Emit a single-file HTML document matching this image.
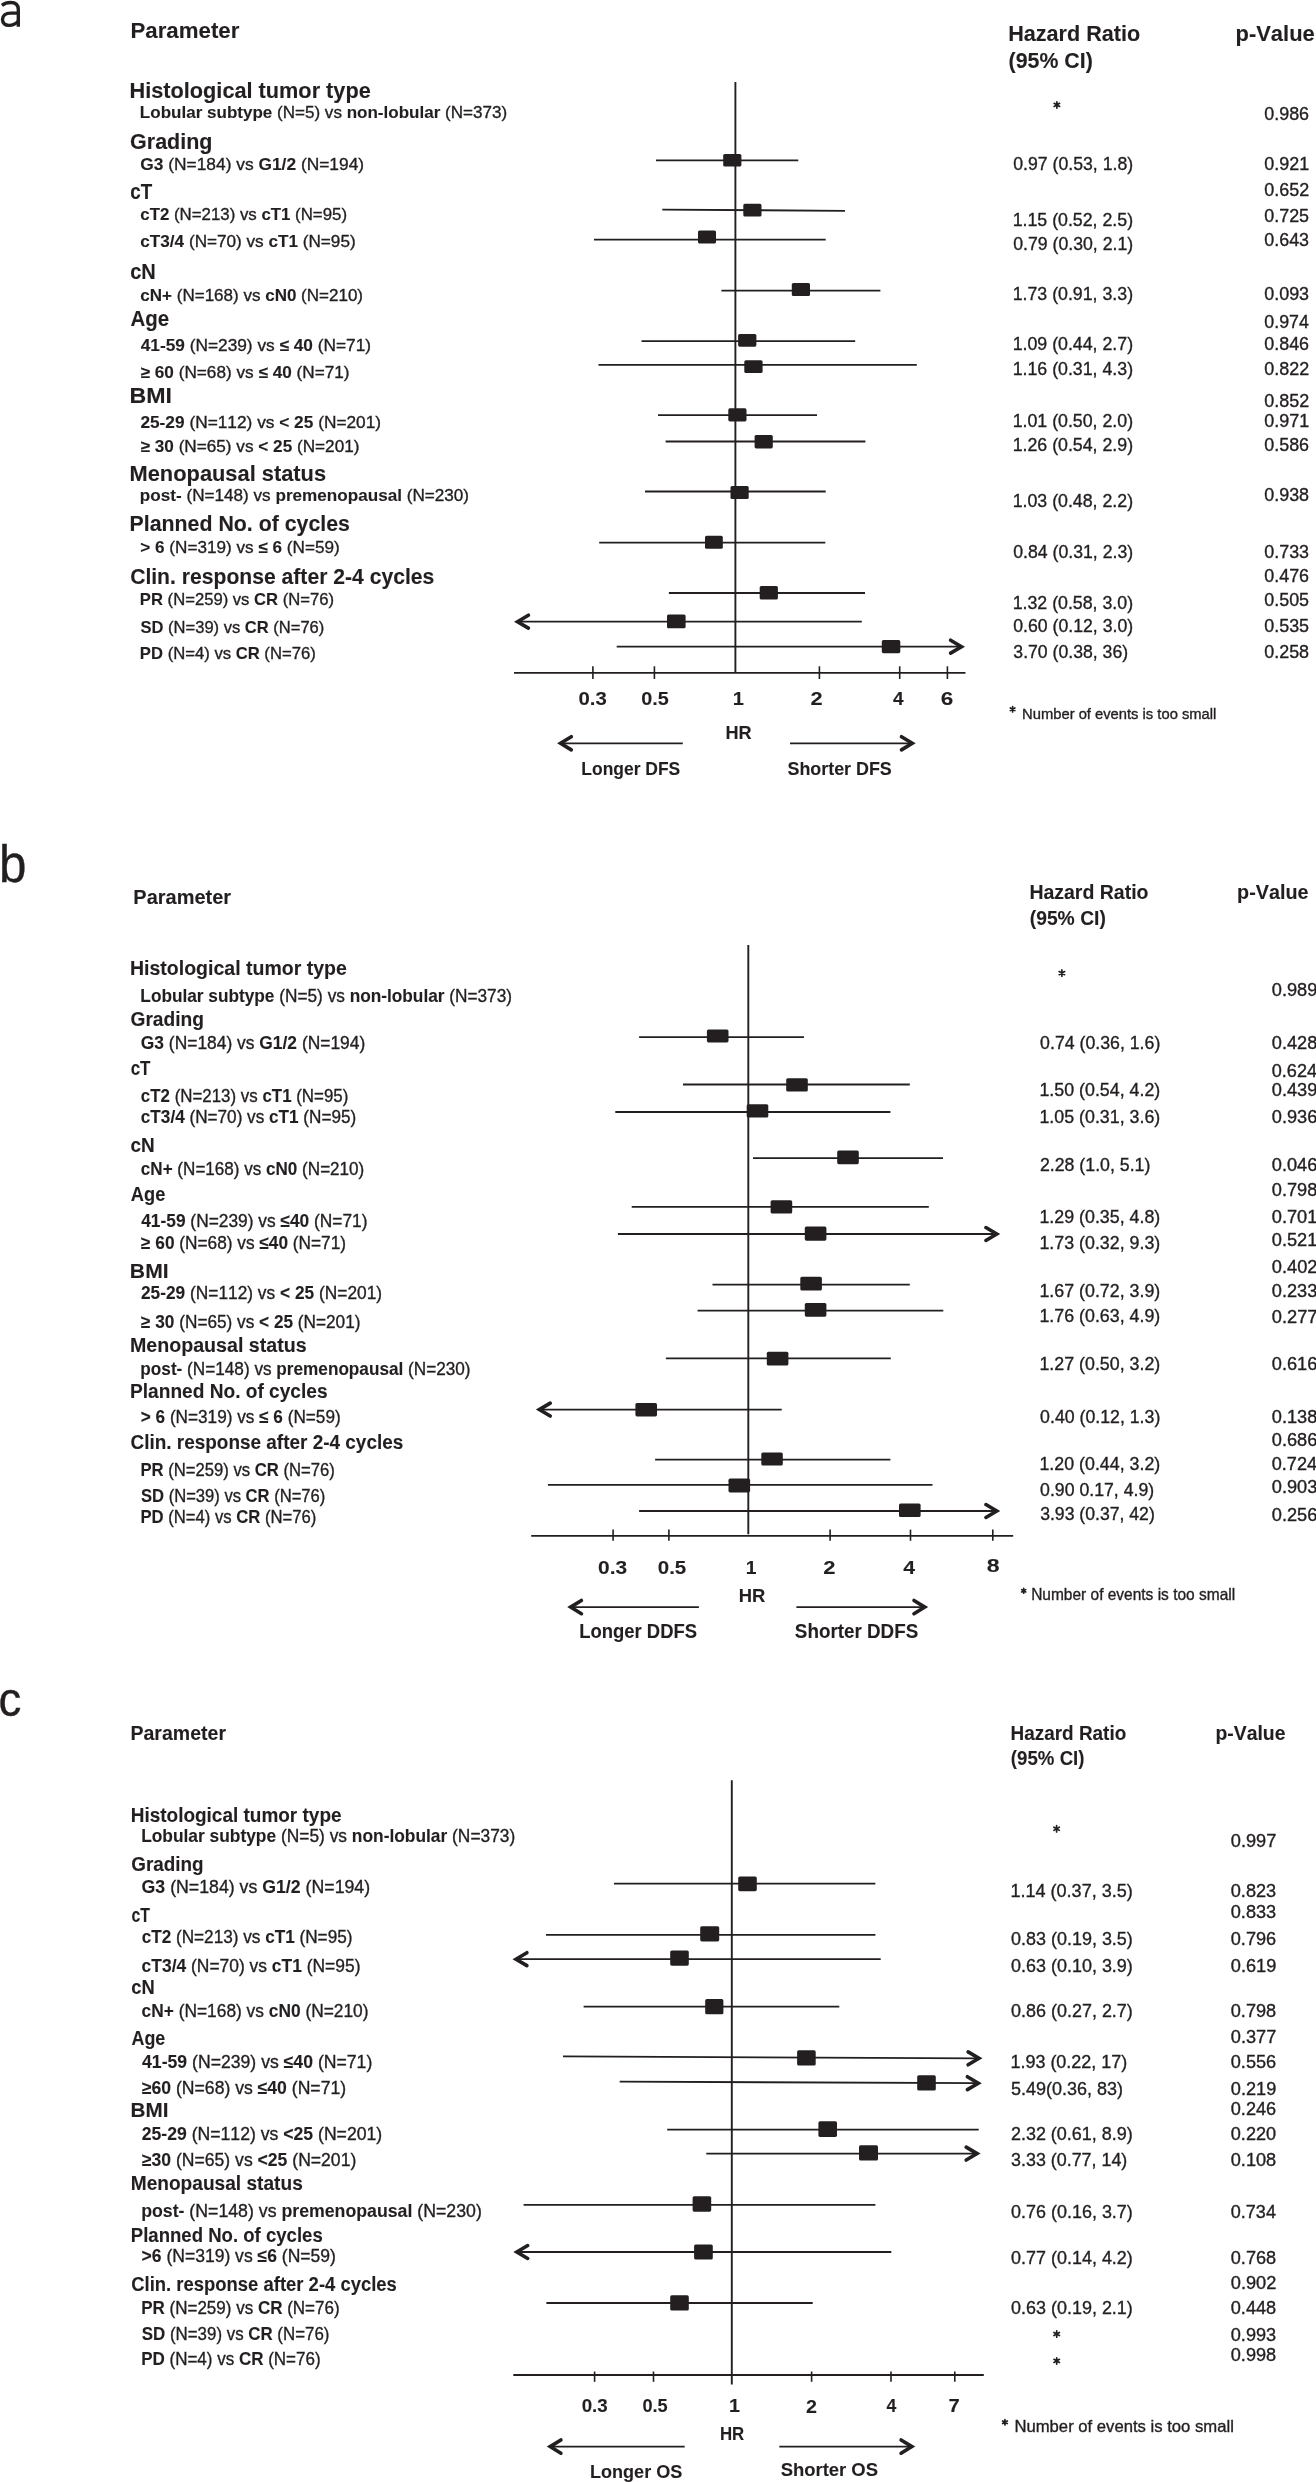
<!DOCTYPE html>
<html><head><meta charset="utf-8"><title>Forest plots</title>
<style>
html,body{margin:0;padding:0;background:#fff;}
body{width:1316px;height:2482px;overflow:hidden;}
svg{display:block;will-change:transform;}
svg text{font-family:"Liberation Sans",sans-serif;fill:#231f20;stroke:#231f20;stroke-width:0.35px;font-kerning:none;font-variant-ligatures:none;}
svg tspan[font-weight=bold]{stroke-width:0.1px;}
svg line{stroke:#231f20;}
svg rect.sq{fill:#231f20;}
svg polyline.ah{fill:none;stroke:#231f20;stroke-linecap:round;stroke-linejoin:miter;}
</style></head>
<body>
<svg width="1316" height="2482" viewBox="0 0 1316 2482">
<rect x="0" y="0" width="1316" height="2482" fill="#fff"/>
<g fill="none" stroke="#231f20" stroke-width="3.4"><path d="M1.9,5.3 C4.6,3.3 7.6,2.5 10.6,2.5 C15.6,2.5 18.3,4.9 18.3,9.6 L18.3,26.8"/><path d="M18.3,13.1 L10.6,13.1 C5.6,13.1 2.5,15.6 2.5,19.6 C2.5,23.4 5.2,25.4 9.0,25.4 C12.6,25.4 15.9,23.8 18.3,21.0"/></g>
<text x="130.51" y="37.90" font-size="21.22" textLength="108.82" lengthAdjust="spacingAndGlyphs"><tspan font-weight="bold">Parameter</tspan></text>
<text x="1008.16" y="40.70" font-size="21.95" textLength="131.99" lengthAdjust="spacingAndGlyphs"><tspan font-weight="bold">Hazard Ratio</tspan></text>
<text x="1008.54" y="67.70" font-size="21.95" textLength="84.23" lengthAdjust="spacingAndGlyphs"><tspan font-weight="bold">(95% CI)</tspan></text>
<text x="1235.55" y="40.70" font-size="21.95" textLength="79.19" lengthAdjust="spacingAndGlyphs"><tspan font-weight="bold">p-Value</tspan></text>
<text x="129.55" y="98.30" font-size="21.51" textLength="241.19" lengthAdjust="spacingAndGlyphs"><tspan font-weight="bold">Histological tumor type</tspan></text>
<text x="139.86" y="118.00" font-size="16.57" textLength="367.20" lengthAdjust="spacingAndGlyphs"><tspan font-weight="bold">Lobular subtype</tspan><tspan> (N=5) vs </tspan><tspan font-weight="bold">non-lobular</tspan><tspan> (N=373)</tspan></text>
<text x="130.12" y="149.00" font-size="21.51" textLength="82.32" lengthAdjust="spacingAndGlyphs"><tspan font-weight="bold">Grading</tspan></text>
<text x="140.29" y="170.10" font-size="16.57" textLength="223.79" lengthAdjust="spacingAndGlyphs"><tspan font-weight="bold">G3</tspan><tspan> (N=184) vs </tspan><tspan font-weight="bold">G1/2</tspan><tspan> (N=194)</tspan></text>
<text x="130.27" y="199.40" font-size="21.51" textLength="21.94" lengthAdjust="spacingAndGlyphs"><tspan font-weight="bold">cT</tspan></text>
<text x="140.34" y="219.80" font-size="16.57" textLength="206.70" lengthAdjust="spacingAndGlyphs"><tspan font-weight="bold">cT2</tspan><tspan> (N=213) vs </tspan><tspan font-weight="bold">cT1</tspan><tspan> (N=95)</tspan></text>
<text x="140.33" y="247.00" font-size="16.57" textLength="215.33" lengthAdjust="spacingAndGlyphs"><tspan font-weight="bold">cT3/4</tspan><tspan> (N=70) vs </tspan><tspan font-weight="bold">cT1</tspan><tspan> (N=95)</tspan></text>
<text x="130.22" y="279.10" font-size="21.51" textLength="25.63" lengthAdjust="spacingAndGlyphs"><tspan font-weight="bold">cN</tspan></text>
<text x="140.34" y="301.00" font-size="16.57" textLength="222.72" lengthAdjust="spacingAndGlyphs"><tspan font-weight="bold">cN+</tspan><tspan> (N=168) vs </tspan><tspan font-weight="bold">cN0</tspan><tspan> (N=210)</tspan></text>
<text x="130.49" y="326.00" font-size="21.51" textLength="38.71" lengthAdjust="spacingAndGlyphs"><tspan font-weight="bold">Age</tspan></text>
<text x="140.74" y="350.90" font-size="16.57" textLength="230.33" lengthAdjust="spacingAndGlyphs"><tspan font-weight="bold">41-59</tspan><tspan> (N=239) vs </tspan><tspan font-weight="bold">≤ 40</tspan><tspan> (N=71)</tspan></text>
<text x="140.59" y="377.50" font-size="16.57" textLength="208.98" lengthAdjust="spacingAndGlyphs"><tspan font-weight="bold">≥ 60</tspan><tspan> (N=68) vs </tspan><tspan font-weight="bold">≤ 40</tspan><tspan> (N=71)</tspan></text>
<text x="129.45" y="402.50" font-size="21.51" textLength="42.50" lengthAdjust="spacingAndGlyphs"><tspan font-weight="bold">BMI</tspan></text>
<text x="140.40" y="428.00" font-size="16.57" textLength="240.67" lengthAdjust="spacingAndGlyphs"><tspan font-weight="bold">25-29</tspan><tspan> (N=112) vs </tspan><tspan font-weight="bold">&lt; 25</tspan><tspan> (N=201)</tspan></text>
<text x="140.59" y="452.00" font-size="16.57" textLength="218.88" lengthAdjust="spacingAndGlyphs"><tspan font-weight="bold">≥ 30</tspan><tspan> (N=65) vs </tspan><tspan font-weight="bold">&lt; 25</tspan><tspan> (N=201)</tspan></text>
<text x="129.54" y="480.80" font-size="21.51" textLength="196.56" lengthAdjust="spacingAndGlyphs"><tspan font-weight="bold">Menopausal status</tspan></text>
<text x="139.87" y="501.20" font-size="16.57" textLength="329.19" lengthAdjust="spacingAndGlyphs"><tspan font-weight="bold">post-</tspan><tspan> (N=148) vs </tspan><tspan font-weight="bold">premenopausal</tspan><tspan> (N=230)</tspan></text>
<text x="129.57" y="530.50" font-size="21.51" textLength="220.30" lengthAdjust="spacingAndGlyphs"><tspan font-weight="bold">Planned No. of cycles</tspan></text>
<text x="140.28" y="552.70" font-size="16.57" textLength="199.38" lengthAdjust="spacingAndGlyphs"><tspan font-weight="bold">&gt; 6</tspan><tspan> (N=319) vs </tspan><tspan font-weight="bold">≤ 6</tspan><tspan> (N=59)</tspan></text>
<text x="130.13" y="583.50" font-size="21.51" textLength="304.13" lengthAdjust="spacingAndGlyphs"><tspan font-weight="bold">Clin. response after 2-4 cycles</tspan></text>
<text x="139.89" y="605.30" font-size="16.57" textLength="194.14" lengthAdjust="spacingAndGlyphs"><tspan font-weight="bold">PR</tspan><tspan> (N=259) vs </tspan><tspan font-weight="bold">CR</tspan><tspan> (N=76)</tspan></text>
<text x="140.52" y="632.50" font-size="16.57" textLength="183.80" lengthAdjust="spacingAndGlyphs"><tspan font-weight="bold">SD</tspan><tspan> (N=39) vs </tspan><tspan font-weight="bold">CR</tspan><tspan> (N=76)</tspan></text>
<text x="139.89" y="658.50" font-size="16.57" textLength="175.85" lengthAdjust="spacingAndGlyphs"><tspan font-weight="bold">PD</tspan><tspan> (N=4) vs </tspan><tspan font-weight="bold">CR</tspan><tspan> (N=76)</tspan></text>
<path d="M1056.90,101.75L1056.90,108.05M1054.17,103.33L1059.63,106.48M1059.63,103.33L1054.17,106.48" fill="none" stroke="#231f20" stroke-width="1.70" stroke-linecap="round"/>
<text x="1013.31" y="169.70" font-size="18.17" textLength="119.79" lengthAdjust="spacingAndGlyphs"><tspan>0.97 (0.53, 1.8)</tspan></text>
<text x="1012.65" y="225.70" font-size="18.17" textLength="120.45" lengthAdjust="spacingAndGlyphs"><tspan>1.15 (0.52, 2.5)</tspan></text>
<text x="1013.31" y="249.50" font-size="18.17" textLength="119.79" lengthAdjust="spacingAndGlyphs"><tspan>0.79 (0.30, 2.1)</tspan></text>
<text x="1012.65" y="300.00" font-size="18.17" textLength="120.45" lengthAdjust="spacingAndGlyphs"><tspan>1.73 (0.91, 3.3)</tspan></text>
<text x="1012.65" y="350.20" font-size="18.17" textLength="120.45" lengthAdjust="spacingAndGlyphs"><tspan>1.09 (0.44, 2.7)</tspan></text>
<text x="1012.65" y="375.10" font-size="18.17" textLength="120.45" lengthAdjust="spacingAndGlyphs"><tspan>1.16 (0.31, 4.3)</tspan></text>
<text x="1012.65" y="427.10" font-size="18.17" textLength="120.45" lengthAdjust="spacingAndGlyphs"><tspan>1.01 (0.50, 2.0)</tspan></text>
<text x="1012.65" y="450.90" font-size="18.17" textLength="120.45" lengthAdjust="spacingAndGlyphs"><tspan>1.26 (0.54, 2.9)</tspan></text>
<text x="1012.65" y="507.20" font-size="18.17" textLength="120.45" lengthAdjust="spacingAndGlyphs"><tspan>1.03 (0.48, 2.2)</tspan></text>
<text x="1013.31" y="557.90" font-size="18.17" textLength="119.79" lengthAdjust="spacingAndGlyphs"><tspan>0.84 (0.31, 2.3)</tspan></text>
<text x="1012.65" y="608.70" font-size="18.17" textLength="120.45" lengthAdjust="spacingAndGlyphs"><tspan>1.32 (0.58, 3.0)</tspan></text>
<text x="1013.31" y="631.50" font-size="18.17" textLength="119.79" lengthAdjust="spacingAndGlyphs"><tspan>0.60 (0.12, 3.0)</tspan></text>
<text x="1013.33" y="657.80" font-size="18.17" textLength="114.77" lengthAdjust="spacingAndGlyphs"><tspan>3.70 (0.38, 36)</tspan></text>
<text x="1264.30" y="119.70" font-size="17.88" textLength="44.79" lengthAdjust="spacingAndGlyphs"><tspan>0.986</tspan></text>
<text x="1264.30" y="169.90" font-size="17.88" textLength="44.88" lengthAdjust="spacingAndGlyphs"><tspan>0.921</tspan></text>
<text x="1264.30" y="196.10" font-size="17.88" textLength="44.90" lengthAdjust="spacingAndGlyphs"><tspan>0.652</tspan></text>
<text x="1264.30" y="222.10" font-size="17.88" textLength="44.75" lengthAdjust="spacingAndGlyphs"><tspan>0.725</tspan></text>
<text x="1264.30" y="245.90" font-size="17.88" textLength="44.79" lengthAdjust="spacingAndGlyphs"><tspan>0.643</tspan></text>
<text x="1264.30" y="300.10" font-size="17.88" textLength="44.79" lengthAdjust="spacingAndGlyphs"><tspan>0.093</tspan></text>
<text x="1264.31" y="327.60" font-size="17.88" textLength="44.52" lengthAdjust="spacingAndGlyphs"><tspan>0.974</tspan></text>
<text x="1264.30" y="350.30" font-size="17.88" textLength="44.79" lengthAdjust="spacingAndGlyphs"><tspan>0.846</tspan></text>
<text x="1264.30" y="375.20" font-size="17.88" textLength="44.90" lengthAdjust="spacingAndGlyphs"><tspan>0.822</tspan></text>
<text x="1264.30" y="406.90" font-size="17.88" textLength="44.90" lengthAdjust="spacingAndGlyphs"><tspan>0.852</tspan></text>
<text x="1264.30" y="427.20" font-size="17.88" textLength="44.88" lengthAdjust="spacingAndGlyphs"><tspan>0.971</tspan></text>
<text x="1264.30" y="451.00" font-size="17.88" textLength="44.79" lengthAdjust="spacingAndGlyphs"><tspan>0.586</tspan></text>
<text x="1264.30" y="501.10" font-size="17.88" textLength="44.78" lengthAdjust="spacingAndGlyphs"><tspan>0.938</tspan></text>
<text x="1264.30" y="558.00" font-size="17.88" textLength="44.79" lengthAdjust="spacingAndGlyphs"><tspan>0.733</tspan></text>
<text x="1264.30" y="581.50" font-size="17.88" textLength="44.79" lengthAdjust="spacingAndGlyphs"><tspan>0.476</tspan></text>
<text x="1264.30" y="605.50" font-size="17.88" textLength="44.75" lengthAdjust="spacingAndGlyphs"><tspan>0.505</tspan></text>
<text x="1264.30" y="631.60" font-size="17.88" textLength="44.75" lengthAdjust="spacingAndGlyphs"><tspan>0.535</tspan></text>
<text x="1264.30" y="657.90" font-size="17.88" textLength="44.78" lengthAdjust="spacingAndGlyphs"><tspan>0.258</tspan></text>
<path d="M1012.60,706.65L1012.60,711.95M1010.31,707.97L1014.89,710.62M1014.89,707.97L1010.31,710.62" fill="none" stroke="#231f20" stroke-width="1.70" stroke-linecap="round"/>
<text x="1022.09" y="718.90" font-size="14.24" textLength="194.30" lengthAdjust="spacingAndGlyphs"><tspan>Number of events is too small</tspan></text>
<line x1="735.40" y1="82.00" x2="735.40" y2="672.80" stroke-width="1.90"/>
<line x1="514.00" y1="672.80" x2="965.50" y2="672.80" stroke-width="1.80"/>
<line x1="592.90" y1="666.30" x2="592.90" y2="679.00" stroke-width="1.60"/>
<line x1="654.40" y1="666.30" x2="654.40" y2="679.00" stroke-width="1.60"/>
<line x1="819.40" y1="666.30" x2="819.40" y2="679.00" stroke-width="1.60"/>
<line x1="899.70" y1="666.30" x2="899.70" y2="679.00" stroke-width="1.60"/>
<line x1="947.40" y1="666.30" x2="947.40" y2="679.00" stroke-width="1.60"/>
<text x="578.50" y="704.80" font-size="19.19" textLength="28.24" lengthAdjust="spacingAndGlyphs"><tspan font-weight="bold">0.3</tspan></text>
<text x="641.32" y="704.80" font-size="19.19" textLength="27.53" lengthAdjust="spacingAndGlyphs"><tspan font-weight="bold">0.5</tspan></text>
<text x="732.74" y="704.80" font-size="19.19" textLength="11.12" lengthAdjust="spacingAndGlyphs"><tspan font-weight="bold">1</tspan></text>
<text x="810.54" y="704.80" font-size="19.19" textLength="12.13" lengthAdjust="spacingAndGlyphs"><tspan font-weight="bold">2</tspan></text>
<text x="893.01" y="704.80" font-size="19.19" textLength="10.59" lengthAdjust="spacingAndGlyphs"><tspan font-weight="bold">4</tspan></text>
<text x="940.67" y="704.80" font-size="19.19" textLength="12.54" lengthAdjust="spacingAndGlyphs"><tspan font-weight="bold">6</tspan></text>
<text x="725.49" y="738.70" font-size="18.60" textLength="26.18" lengthAdjust="spacingAndGlyphs"><tspan font-weight="bold">HR</tspan></text>
<polyline class="ah" points="571.30,736.70 560.54,743.30 571.30,749.90" stroke-width="3.60"/>
<line x1="682.80" y1="743.30" x2="560.54" y2="743.30" stroke-width="1.80"/>
<polyline class="ah" points="901.50,736.70 912.26,743.30 901.50,749.90" stroke-width="3.60"/>
<line x1="790.00" y1="743.30" x2="912.26" y2="743.30" stroke-width="1.80"/>
<text x="581.33" y="774.80" font-size="18.60" textLength="98.85" lengthAdjust="spacingAndGlyphs"><tspan font-weight="bold">Longer DFS</tspan></text>
<text x="787.48" y="774.80" font-size="18.60" textLength="104.31" lengthAdjust="spacingAndGlyphs"><tspan font-weight="bold">Shorter DFS</tspan></text>
<line x1="656.00" y1="160.40" x2="798.30" y2="160.40" stroke-width="1.80"/>
<rect class="sq" x="723.20" y="153.90" width="18.20" height="12.70" rx="1.60"/>
<line x1="662.30" y1="209.60" x2="845.00" y2="210.80" stroke-width="1.80"/>
<rect class="sq" x="743.30" y="203.80" width="18.20" height="12.80" rx="1.60"/>
<line x1="594.00" y1="239.60" x2="825.70" y2="239.60" stroke-width="1.80"/>
<rect class="sq" x="698.00" y="230.50" width="18.00" height="13.10" rx="1.60"/>
<line x1="721.40" y1="290.60" x2="880.40" y2="290.60" stroke-width="1.80"/>
<rect class="sq" x="791.80" y="283.00" width="18.20" height="13.10" rx="1.60"/>
<line x1="641.50" y1="341.20" x2="855.20" y2="341.20" stroke-width="1.80"/>
<rect class="sq" x="738.10" y="333.90" width="18.30" height="12.80" rx="1.60"/>
<line x1="598.50" y1="364.90" x2="916.80" y2="364.90" stroke-width="1.80"/>
<rect class="sq" x="744.30" y="360.20" width="18.30" height="12.80" rx="1.60"/>
<line x1="658.00" y1="415.20" x2="817.00" y2="415.20" stroke-width="1.80"/>
<rect class="sq" x="728.30" y="408.30" width="18.20" height="13.10" rx="1.60"/>
<line x1="665.60" y1="441.50" x2="865.40" y2="441.50" stroke-width="1.80"/>
<rect class="sq" x="754.60" y="435.00" width="18.20" height="13.40" rx="1.60"/>
<line x1="645.00" y1="491.50" x2="825.70" y2="491.50" stroke-width="1.80"/>
<rect class="sq" x="730.50" y="486.00" width="18.20" height="13.10" rx="1.60"/>
<line x1="599.20" y1="542.60" x2="825.30" y2="542.60" stroke-width="1.80"/>
<rect class="sq" x="705.00" y="535.70" width="17.80" height="13.10" rx="1.60"/>
<line x1="668.90" y1="593.00" x2="865.00" y2="593.00" stroke-width="1.80"/>
<rect class="sq" x="759.70" y="586.00" width="18.20" height="13.50" rx="1.60"/>
<polyline class="ah" points="528.40,615.25 517.53,621.70 528.40,628.15" stroke-width="3.60"/>
<line x1="517.53" y1="621.70" x2="861.80" y2="621.70" stroke-width="1.80"/>
<rect class="sq" x="667.00" y="614.50" width="18.60" height="13.80" rx="1.60"/>
<polyline class="ah" points="950.60,640.25 961.47,646.70 950.60,653.15" stroke-width="3.60"/>
<line x1="616.70" y1="646.70" x2="961.47" y2="646.70" stroke-width="1.80"/>
<rect class="sq" x="881.80" y="640.10" width="18.50" height="13.10" rx="1.60"/>
<text x="-1.08" y="881.70" font-size="51.47" textLength="27.45" lengthAdjust="spacingAndGlyphs"><tspan>b</tspan></text>
<text x="133.36" y="903.70" font-size="20.64" textLength="97.74" lengthAdjust="spacingAndGlyphs"><tspan font-weight="bold">Parameter</tspan></text>
<text x="1029.40" y="899.40" font-size="20.06" textLength="119.06" lengthAdjust="spacingAndGlyphs"><tspan font-weight="bold">Hazard Ratio</tspan></text>
<text x="1029.74" y="924.90" font-size="20.06" textLength="76.12" lengthAdjust="spacingAndGlyphs"><tspan font-weight="bold">(95% CI)</tspan></text>
<text x="1237.10" y="899.40" font-size="20.06" textLength="71.38" lengthAdjust="spacingAndGlyphs"><tspan font-weight="bold">p-Value</tspan></text>
<text x="130.00" y="974.50" font-size="20.35" textLength="216.77" lengthAdjust="spacingAndGlyphs"><tspan font-weight="bold">Histological tumor type</tspan></text>
<text x="140.36" y="1001.80" font-size="18.02" textLength="371.69" lengthAdjust="spacingAndGlyphs"><tspan font-weight="bold">Lobular subtype</tspan><tspan> (N=5) vs </tspan><tspan font-weight="bold">non-lobular</tspan><tspan>  (N=373)</tspan></text>
<text x="130.51" y="1026.10" font-size="20.35" textLength="73.47" lengthAdjust="spacingAndGlyphs"><tspan font-weight="bold">Grading</tspan></text>
<text x="140.79" y="1048.60" font-size="18.02" textLength="224.49" lengthAdjust="spacingAndGlyphs"><tspan font-weight="bold">G3</tspan><tspan> (N=184) vs </tspan><tspan font-weight="bold">G1/2</tspan><tspan> (N=194)</tspan></text>
<text x="130.64" y="1075.00" font-size="20.35" textLength="19.85" lengthAdjust="spacingAndGlyphs"><tspan font-weight="bold">cT</tspan></text>
<text x="140.84" y="1101.80" font-size="18.02" textLength="207.51" lengthAdjust="spacingAndGlyphs"><tspan font-weight="bold">cT2</tspan><tspan> (N=213) vs </tspan><tspan font-weight="bold">cT1</tspan><tspan> (N=95)</tspan></text>
<text x="140.83" y="1122.50" font-size="18.02" textLength="215.43" lengthAdjust="spacingAndGlyphs"><tspan font-weight="bold">cT3/4</tspan><tspan> (N=70) vs </tspan><tspan font-weight="bold">cT1</tspan><tspan> (N=95)</tspan></text>
<text x="130.56" y="1151.90" font-size="20.35" textLength="24.22" lengthAdjust="spacingAndGlyphs"><tspan font-weight="bold">cN</tspan></text>
<text x="140.83" y="1175.30" font-size="18.02" textLength="223.43" lengthAdjust="spacingAndGlyphs"><tspan font-weight="bold">cN+</tspan><tspan> (N=168) vs </tspan><tspan font-weight="bold">cN0</tspan><tspan> (N=210)</tspan></text>
<text x="130.85" y="1200.70" font-size="20.35" textLength="34.48" lengthAdjust="spacingAndGlyphs"><tspan font-weight="bold">Age</tspan></text>
<text x="141.24" y="1227.30" font-size="18.02" textLength="226.24" lengthAdjust="spacingAndGlyphs"><tspan font-weight="bold">41-59</tspan><tspan> (N=239) vs </tspan><tspan font-weight="bold">≤40</tspan><tspan> (N=71)</tspan></text>
<text x="141.09" y="1248.70" font-size="18.02" textLength="204.98" lengthAdjust="spacingAndGlyphs"><tspan font-weight="bold">≥ 60</tspan><tspan> (N=68) vs </tspan><tspan font-weight="bold">≤40</tspan><tspan> (N=71)</tspan></text>
<text x="129.89" y="1278.40" font-size="20.35" textLength="38.73" lengthAdjust="spacingAndGlyphs"><tspan font-weight="bold">BMI</tspan></text>
<text x="140.90" y="1299.20" font-size="18.02" textLength="241.17" lengthAdjust="spacingAndGlyphs"><tspan font-weight="bold">25-29</tspan><tspan> (N=112) vs </tspan><tspan font-weight="bold">&lt; 25</tspan><tspan> (N=201)</tspan></text>
<text x="141.09" y="1327.90" font-size="18.02" textLength="219.38" lengthAdjust="spacingAndGlyphs"><tspan font-weight="bold">≥ 30</tspan><tspan> (N=65) vs </tspan><tspan font-weight="bold">&lt; 25</tspan><tspan> (N=201)</tspan></text>
<text x="129.99" y="1351.70" font-size="20.35" textLength="176.62" lengthAdjust="spacingAndGlyphs"><tspan font-weight="bold">Menopausal status</tspan></text>
<text x="140.37" y="1374.90" font-size="18.02" textLength="330.20" lengthAdjust="spacingAndGlyphs"><tspan font-weight="bold">post-</tspan><tspan> (N=148) vs </tspan><tspan font-weight="bold">premenopausal</tspan><tspan> (N=230)</tspan></text>
<text x="130.02" y="1398.20" font-size="20.35" textLength="197.56" lengthAdjust="spacingAndGlyphs"><tspan font-weight="bold">Planned No. of cycles</tspan></text>
<text x="140.78" y="1423.40" font-size="18.02" textLength="199.89" lengthAdjust="spacingAndGlyphs"><tspan font-weight="bold">&gt; 6</tspan><tspan> (N=319) vs </tspan><tspan font-weight="bold">≤ 6</tspan><tspan> (N=59)</tspan></text>
<text x="130.52" y="1449.20" font-size="20.35" textLength="272.75" lengthAdjust="spacingAndGlyphs"><tspan font-weight="bold">Clin. response after 2-4 cycles</tspan></text>
<text x="140.38" y="1476.40" font-size="18.02" textLength="194.55" lengthAdjust="spacingAndGlyphs"><tspan font-weight="bold">PR</tspan><tspan> (N=259) vs </tspan><tspan font-weight="bold">CR</tspan><tspan> (N=76)</tspan></text>
<text x="141.02" y="1501.60" font-size="18.02" textLength="184.31" lengthAdjust="spacingAndGlyphs"><tspan font-weight="bold">SD</tspan><tspan> (N=39) vs </tspan><tspan font-weight="bold">CR</tspan><tspan> (N=76)</tspan></text>
<text x="140.39" y="1523.30" font-size="18.02" textLength="175.95" lengthAdjust="spacingAndGlyphs"><tspan font-weight="bold">PD</tspan><tspan> (N=4) vs </tspan><tspan font-weight="bold">CR</tspan><tspan> (N=76)</tspan></text>
<path d="M1061.90,969.95L1061.90,976.25M1059.17,971.52L1064.63,974.68M1064.63,971.52L1059.17,974.68" fill="none" stroke="#231f20" stroke-width="1.70" stroke-linecap="round"/>
<text x="1040.11" y="1048.50" font-size="18.02" textLength="120.19" lengthAdjust="spacingAndGlyphs"><tspan>0.74 (0.36, 1.6)</tspan></text>
<text x="1039.44" y="1095.90" font-size="18.02" textLength="120.86" lengthAdjust="spacingAndGlyphs"><tspan>1.50 (0.54, 4.2)</tspan></text>
<text x="1039.44" y="1122.50" font-size="18.02" textLength="120.86" lengthAdjust="spacingAndGlyphs"><tspan>1.05 (0.31, 3.6)</tspan></text>
<text x="1039.44" y="1222.90" font-size="18.02" textLength="120.86" lengthAdjust="spacingAndGlyphs"><tspan>1.29 (0.35, 4.8)</tspan></text>
<text x="1039.44" y="1248.60" font-size="18.02" textLength="120.86" lengthAdjust="spacingAndGlyphs"><tspan>1.73 (0.32, 9.3)</tspan></text>
<text x="1039.44" y="1297.30" font-size="18.02" textLength="120.86" lengthAdjust="spacingAndGlyphs"><tspan>1.67 (0.72, 3.9)</tspan></text>
<text x="1039.44" y="1322.10" font-size="18.02" textLength="120.86" lengthAdjust="spacingAndGlyphs"><tspan>1.76 (0.63, 4.9)</tspan></text>
<text x="1039.44" y="1370.10" font-size="18.02" textLength="120.86" lengthAdjust="spacingAndGlyphs"><tspan>1.27 (0.50, 3.2)</tspan></text>
<text x="1040.11" y="1422.50" font-size="18.02" textLength="120.19" lengthAdjust="spacingAndGlyphs"><tspan>0.40 (0.12, 1.3)</tspan></text>
<text x="1039.44" y="1469.80" font-size="18.02" textLength="120.86" lengthAdjust="spacingAndGlyphs"><tspan>1.20 (0.44, 3.2)</tspan></text>
<text x="1039.91" y="1171.00" font-size="18.02" textLength="110.49" lengthAdjust="spacingAndGlyphs"><tspan>2.28 (1.0, 5.1)</tspan></text>
<text x="1040.11" y="1495.70" font-size="18.02" textLength="113.99" lengthAdjust="spacingAndGlyphs"><tspan>0.90 0.17, 4.9)</tspan></text>
<text x="1040.13" y="1519.70" font-size="18.02" textLength="114.66" lengthAdjust="spacingAndGlyphs"><tspan>3.93 (0.37, 42)</tspan></text>
<text x="1271.79" y="995.70" font-size="17.44" textLength="45.57" lengthAdjust="spacingAndGlyphs"><tspan>0.989</tspan></text>
<text x="1271.79" y="1048.50" font-size="17.44" textLength="45.50" lengthAdjust="spacingAndGlyphs"><tspan>0.428</tspan></text>
<text x="1271.79" y="1076.60" font-size="17.44" textLength="45.24" lengthAdjust="spacingAndGlyphs"><tspan>0.624</tspan></text>
<text x="1271.79" y="1095.90" font-size="17.44" textLength="45.57" lengthAdjust="spacingAndGlyphs"><tspan>0.439</tspan></text>
<text x="1271.79" y="1122.50" font-size="17.44" textLength="45.51" lengthAdjust="spacingAndGlyphs"><tspan>0.936</tspan></text>
<text x="1271.79" y="1171.00" font-size="17.44" textLength="45.51" lengthAdjust="spacingAndGlyphs"><tspan>0.046</tspan></text>
<text x="1271.79" y="1195.70" font-size="17.44" textLength="45.50" lengthAdjust="spacingAndGlyphs"><tspan>0.798</tspan></text>
<text x="1271.79" y="1222.90" font-size="17.44" textLength="45.60" lengthAdjust="spacingAndGlyphs"><tspan>0.701</tspan></text>
<text x="1271.79" y="1245.70" font-size="17.44" textLength="45.60" lengthAdjust="spacingAndGlyphs"><tspan>0.521</tspan></text>
<text x="1271.79" y="1273.30" font-size="17.44" textLength="45.63" lengthAdjust="spacingAndGlyphs"><tspan>0.402</tspan></text>
<text x="1271.79" y="1297.30" font-size="17.44" textLength="45.51" lengthAdjust="spacingAndGlyphs"><tspan>0.233</tspan></text>
<text x="1271.79" y="1322.60" font-size="17.44" textLength="45.63" lengthAdjust="spacingAndGlyphs"><tspan>0.277</tspan></text>
<text x="1271.79" y="1370.10" font-size="17.44" textLength="45.51" lengthAdjust="spacingAndGlyphs"><tspan>0.616</tspan></text>
<text x="1271.79" y="1422.50" font-size="17.44" textLength="45.50" lengthAdjust="spacingAndGlyphs"><tspan>0.138</tspan></text>
<text x="1271.79" y="1446.30" font-size="17.44" textLength="45.51" lengthAdjust="spacingAndGlyphs"><tspan>0.686</tspan></text>
<text x="1271.79" y="1469.80" font-size="17.44" textLength="45.24" lengthAdjust="spacingAndGlyphs"><tspan>0.724</tspan></text>
<text x="1271.79" y="1493.30" font-size="17.44" textLength="45.51" lengthAdjust="spacingAndGlyphs"><tspan>0.903</tspan></text>
<text x="1271.79" y="1521.40" font-size="17.44" textLength="45.51" lengthAdjust="spacingAndGlyphs"><tspan>0.256</tspan></text>
<path d="M1023.70,1588.45L1023.70,1593.15M1021.66,1589.62L1025.74,1591.97M1025.74,1589.62L1021.66,1591.97" fill="none" stroke="#231f20" stroke-width="1.70" stroke-linecap="round"/>
<text x="1031.13" y="1599.80" font-size="16.28" textLength="204.01" lengthAdjust="spacingAndGlyphs"><tspan>Number of events is too small</tspan></text>
<line x1="748.30" y1="944.90" x2="748.30" y2="1534.20" stroke-width="1.90"/>
<line x1="531.20" y1="1535.90" x2="1013.20" y2="1535.90" stroke-width="1.80"/>
<line x1="613.10" y1="1529.60" x2="613.10" y2="1540.80" stroke-width="1.60"/>
<line x1="668.90" y1="1529.60" x2="668.90" y2="1540.80" stroke-width="1.60"/>
<line x1="830.10" y1="1529.60" x2="830.10" y2="1540.80" stroke-width="1.60"/>
<line x1="910.50" y1="1529.60" x2="910.50" y2="1540.80" stroke-width="1.60"/>
<line x1="992.80" y1="1529.60" x2="992.80" y2="1540.80" stroke-width="1.60"/>
<text x="598.07" y="1573.90" font-size="18.75" textLength="29.08" lengthAdjust="spacingAndGlyphs"><tspan font-weight="bold">0.3</tspan></text>
<text x="657.79" y="1573.90" font-size="18.75" textLength="28.48" lengthAdjust="spacingAndGlyphs"><tspan font-weight="bold">0.5</tspan></text>
<text x="745.88" y="1573.90" font-size="18.75" textLength="10.76" lengthAdjust="spacingAndGlyphs"><tspan font-weight="bold">1</tspan></text>
<text x="823.24" y="1573.90" font-size="18.75" textLength="12.24" lengthAdjust="spacingAndGlyphs"><tspan font-weight="bold">2</tspan></text>
<text x="903.28" y="1573.90" font-size="18.75" textLength="11.84" lengthAdjust="spacingAndGlyphs"><tspan font-weight="bold">4</tspan></text>
<text x="986.77" y="1572.30" font-size="18.75" textLength="12.84" lengthAdjust="spacingAndGlyphs"><tspan font-weight="bold">8</tspan></text>
<text x="738.77" y="1601.90" font-size="19.19" textLength="26.61" lengthAdjust="spacingAndGlyphs"><tspan font-weight="bold">HR</tspan></text>
<polyline class="ah" points="581.40,1600.50 570.64,1607.10 581.40,1613.70" stroke-width="3.60"/>
<line x1="698.90" y1="1607.10" x2="570.64" y2="1607.10" stroke-width="1.80"/>
<polyline class="ah" points="914.00,1600.50 924.76,1607.10 914.00,1613.70" stroke-width="3.60"/>
<line x1="796.40" y1="1607.10" x2="924.76" y2="1607.10" stroke-width="1.80"/>
<text x="579.16" y="1638.40" font-size="19.48" textLength="117.96" lengthAdjust="spacingAndGlyphs"><tspan font-weight="bold">Longer DDFS</tspan></text>
<text x="794.86" y="1638.40" font-size="19.48" textLength="123.38" lengthAdjust="spacingAndGlyphs"><tspan font-weight="bold">Shorter DDFS</tspan></text>
<line x1="639.10" y1="1037.20" x2="804.00" y2="1037.20" stroke-width="1.80"/>
<rect class="sq" x="706.90" y="1029.40" width="21.60" height="13.00" rx="1.60"/>
<line x1="683.00" y1="1084.50" x2="909.80" y2="1084.50" stroke-width="1.80"/>
<rect class="sq" x="786.20" y="1078.20" width="21.60" height="13.40" rx="1.60"/>
<line x1="615.30" y1="1112.00" x2="890.40" y2="1112.00" stroke-width="1.80"/>
<rect class="sq" x="746.70" y="1104.20" width="21.60" height="13.40" rx="1.60"/>
<line x1="753.00" y1="1158.20" x2="943.00" y2="1158.20" stroke-width="1.80"/>
<rect class="sq" x="837.20" y="1150.40" width="21.60" height="13.80" rx="1.60"/>
<line x1="631.70" y1="1206.90" x2="928.80" y2="1206.90" stroke-width="1.80"/>
<rect class="sq" x="770.60" y="1200.20" width="21.60" height="13.40" rx="1.60"/>
<polyline class="ah" points="985.90,1227.55 996.77,1234.00 985.90,1240.45" stroke-width="3.60"/>
<line x1="617.90" y1="1234.00" x2="996.77" y2="1234.00" stroke-width="1.80"/>
<rect class="sq" x="804.80" y="1226.60" width="21.60" height="14.10" rx="1.60"/>
<line x1="712.50" y1="1284.70" x2="909.80" y2="1284.70" stroke-width="1.80"/>
<rect class="sq" x="800.30" y="1276.80" width="21.60" height="13.80" rx="1.60"/>
<line x1="697.60" y1="1310.70" x2="943.30" y2="1310.70" stroke-width="1.80"/>
<rect class="sq" x="804.80" y="1302.90" width="21.60" height="13.80" rx="1.60"/>
<line x1="665.90" y1="1358.40" x2="890.80" y2="1358.40" stroke-width="1.80"/>
<rect class="sq" x="766.80" y="1351.70" width="21.60" height="13.80" rx="1.60"/>
<polyline class="ah" points="550.20,1403.15 539.33,1409.60 550.20,1416.05" stroke-width="3.60"/>
<line x1="539.33" y1="1409.60" x2="781.70" y2="1409.60" stroke-width="1.80"/>
<rect class="sq" x="635.40" y="1403.00" width="21.60" height="13.40" rx="1.60"/>
<line x1="655.10" y1="1459.60" x2="890.40" y2="1459.60" stroke-width="1.80"/>
<rect class="sq" x="761.30" y="1452.50" width="21.50" height="13.10" rx="1.60"/>
<line x1="547.90" y1="1484.90" x2="932.50" y2="1484.90" stroke-width="1.80"/>
<rect class="sq" x="728.50" y="1478.60" width="21.60" height="13.80" rx="1.60"/>
<polyline class="ah" points="985.90,1504.55 996.77,1511.00 985.90,1517.45" stroke-width="3.60"/>
<line x1="639.10" y1="1511.00" x2="996.77" y2="1511.00" stroke-width="1.80"/>
<rect class="sq" x="899.00" y="1503.60" width="21.60" height="13.40" rx="1.60"/>
<text x="-1.54" y="1715.82" font-size="48.92" textLength="22.85" lengthAdjust="spacingAndGlyphs"><tspan>c</tspan></text>
<text x="130.49" y="1740.30" font-size="19.77" textLength="95.50" lengthAdjust="spacingAndGlyphs"><tspan font-weight="bold">Parameter</tspan></text>
<text x="1010.53" y="1740.00" font-size="19.77" textLength="115.71" lengthAdjust="spacingAndGlyphs"><tspan font-weight="bold">Hazard Ratio</tspan></text>
<text x="1010.87" y="1765.10" font-size="19.77" textLength="73.66" lengthAdjust="spacingAndGlyphs"><tspan font-weight="bold">(95% CI)</tspan></text>
<text x="1215.42" y="1740.00" font-size="19.77" textLength="70.04" lengthAdjust="spacingAndGlyphs"><tspan font-weight="bold">p-Value</tspan></text>
<text x="130.73" y="1822.10" font-size="19.91" textLength="210.82" lengthAdjust="spacingAndGlyphs"><tspan font-weight="bold">Histological tumor type</tspan></text>
<text x="141.14" y="1842.10" font-size="18.02" textLength="374.14" lengthAdjust="spacingAndGlyphs"><tspan font-weight="bold">Lobular subtype</tspan><tspan> (N=5) vs </tspan><tspan font-weight="bold">non-lobular</tspan><tspan> (N=373)</tspan></text>
<text x="131.23" y="1871.30" font-size="19.91" textLength="72.34" lengthAdjust="spacingAndGlyphs"><tspan font-weight="bold">Grading</tspan></text>
<text x="141.57" y="1893.30" font-size="18.02" textLength="228.53" lengthAdjust="spacingAndGlyphs"><tspan font-weight="bold">G3</tspan><tspan> (N=184) vs </tspan><tspan font-weight="bold">G1/2</tspan><tspan> (N=194)</tspan></text>
<text x="131.38" y="1921.90" font-size="19.91" textLength="18.49" lengthAdjust="spacingAndGlyphs"><tspan font-weight="bold">cT</tspan></text>
<text x="141.63" y="1943.20" font-size="18.02" textLength="210.83" lengthAdjust="spacingAndGlyphs"><tspan font-weight="bold">cT2</tspan><tspan> (N=213) vs </tspan><tspan font-weight="bold">cT1</tspan><tspan> (N=95)</tspan></text>
<text x="141.62" y="1971.50" font-size="18.02" textLength="218.86" lengthAdjust="spacingAndGlyphs"><tspan font-weight="bold">cT3/4</tspan><tspan> (N=70) vs </tspan><tspan font-weight="bold">cT1</tspan><tspan> (N=95)</tspan></text>
<text x="131.28" y="1994.40" font-size="19.91" textLength="23.45" lengthAdjust="spacingAndGlyphs"><tspan font-weight="bold">cN</tspan></text>
<text x="141.62" y="2016.50" font-size="18.02" textLength="226.85" lengthAdjust="spacingAndGlyphs"><tspan font-weight="bold">cN+</tspan><tspan> (N=168) vs </tspan><tspan font-weight="bold">cN0</tspan><tspan> (N=210)</tspan></text>
<text x="131.56" y="2044.70" font-size="19.91" textLength="33.76" lengthAdjust="spacingAndGlyphs"><tspan font-weight="bold">Age</tspan></text>
<text x="142.03" y="2067.90" font-size="18.02" textLength="230.26" lengthAdjust="spacingAndGlyphs"><tspan font-weight="bold">41-59</tspan><tspan> (N=239) vs </tspan><tspan font-weight="bold">≤40</tspan><tspan> (N=71)</tspan></text>
<text x="141.88" y="2093.90" font-size="18.02" textLength="204.21" lengthAdjust="spacingAndGlyphs"><tspan font-weight="bold">≥60</tspan><tspan> (N=68) vs </tspan><tspan font-weight="bold">≤40</tspan><tspan> (N=71)</tspan></text>
<text x="130.61" y="2117.00" font-size="19.91" textLength="37.97" lengthAdjust="spacingAndGlyphs"><tspan font-weight="bold">BMI</tspan></text>
<text x="141.69" y="2139.70" font-size="18.02" textLength="240.50" lengthAdjust="spacingAndGlyphs"><tspan font-weight="bold">25-29</tspan><tspan> (N=112) vs </tspan><tspan font-weight="bold">&lt;25</tspan><tspan> (N=201)</tspan></text>
<text x="141.88" y="2165.50" font-size="18.02" textLength="214.41" lengthAdjust="spacingAndGlyphs"><tspan font-weight="bold">≥30</tspan><tspan> (N=65) vs </tspan><tspan font-weight="bold">&lt;25</tspan><tspan> (N=201)</tspan></text>
<text x="130.72" y="2189.80" font-size="19.91" textLength="172.06" lengthAdjust="spacingAndGlyphs"><tspan font-weight="bold">Menopausal status</tspan></text>
<text x="141.15" y="2216.90" font-size="18.02" textLength="340.63" lengthAdjust="spacingAndGlyphs"><tspan font-weight="bold">post-</tspan><tspan> (N=148) vs  </tspan><tspan font-weight="bold">premenopausal</tspan><tspan> (N=230)</tspan></text>
<text x="130.76" y="2241.50" font-size="19.91" textLength="192.00" lengthAdjust="spacingAndGlyphs"><tspan font-weight="bold">Planned No. of cycles</tspan></text>
<text x="141.56" y="2262.10" font-size="18.02" textLength="194.32" lengthAdjust="spacingAndGlyphs"><tspan font-weight="bold">&gt;6</tspan><tspan> (N=319) vs </tspan><tspan font-weight="bold">≤6</tspan><tspan> (N=59)</tspan></text>
<text x="131.24" y="2290.70" font-size="19.91" textLength="265.61" lengthAdjust="spacingAndGlyphs"><tspan font-weight="bold">Clin. response after 2-4 cycles</tspan></text>
<text x="141.16" y="2313.90" font-size="18.02" textLength="198.49" lengthAdjust="spacingAndGlyphs"><tspan font-weight="bold">PR</tspan><tspan> (N=259) vs </tspan><tspan font-weight="bold">CR</tspan><tspan> (N=76)</tspan></text>
<text x="141.81" y="2340.40" font-size="18.02" textLength="187.63" lengthAdjust="spacingAndGlyphs"><tspan font-weight="bold">SD</tspan><tspan> (N=39) vs </tspan><tspan font-weight="bold">CR</tspan><tspan> (N=76)</tspan></text>
<text x="141.16" y="2365.20" font-size="18.02" textLength="179.39" lengthAdjust="spacingAndGlyphs"><tspan font-weight="bold">PD</tspan><tspan> (N=4) vs </tspan><tspan font-weight="bold">CR</tspan><tspan> (N=76)</tspan></text>
<path d="M1056.60,1825.65L1056.60,1831.95M1053.87,1827.22L1059.33,1830.38M1059.33,1827.22L1053.87,1830.38" fill="none" stroke="#231f20" stroke-width="1.70" stroke-linecap="round"/>
<path d="M1056.70,2330.85L1056.70,2337.15M1053.97,2332.43L1059.43,2335.57M1059.43,2332.43L1053.97,2335.57" fill="none" stroke="#231f20" stroke-width="1.70" stroke-linecap="round"/>
<path d="M1056.70,2357.75L1056.70,2364.05M1053.97,2359.33L1059.43,2362.47M1059.43,2359.33L1053.97,2362.47" fill="none" stroke="#231f20" stroke-width="1.70" stroke-linecap="round"/>
<text x="1010.43" y="1896.70" font-size="18.31" textLength="122.39" lengthAdjust="spacingAndGlyphs"><tspan>1.14 (0.37, 3.5)</tspan></text>
<text x="1011.10" y="1945.10" font-size="18.31" textLength="121.71" lengthAdjust="spacingAndGlyphs"><tspan>0.83 (0.19, 3.5)</tspan></text>
<text x="1011.10" y="1971.80" font-size="18.31" textLength="121.71" lengthAdjust="spacingAndGlyphs"><tspan>0.63 (0.10, 3.9)</tspan></text>
<text x="1011.10" y="2016.90" font-size="18.31" textLength="121.71" lengthAdjust="spacingAndGlyphs"><tspan>0.86 (0.27, 2.7)</tspan></text>
<text x="1010.43" y="2068.40" font-size="18.31" textLength="116.88" lengthAdjust="spacingAndGlyphs"><tspan>1.93 (0.22, 17)</tspan></text>
<text x="1011.08" y="2095.40" font-size="18.31" textLength="112.04" lengthAdjust="spacingAndGlyphs"><tspan>5.49(0.36, 83)</tspan></text>
<text x="1010.90" y="2139.50" font-size="18.31" textLength="121.92" lengthAdjust="spacingAndGlyphs"><tspan>2.32 (0.61, 8.9)</tspan></text>
<text x="1011.12" y="2166.30" font-size="18.31" textLength="116.19" lengthAdjust="spacingAndGlyphs"><tspan>3.33 (0.77, 14)</tspan></text>
<text x="1011.10" y="2217.80" font-size="18.31" textLength="121.71" lengthAdjust="spacingAndGlyphs"><tspan>0.76 (0.16, 3.7)</tspan></text>
<text x="1011.10" y="2264.20" font-size="18.31" textLength="121.71" lengthAdjust="spacingAndGlyphs"><tspan>0.77 (0.14, 4.2)</tspan></text>
<text x="1011.10" y="2313.70" font-size="18.31" textLength="121.71" lengthAdjust="spacingAndGlyphs"><tspan>0.63 (0.19, 2.1)</tspan></text>
<text x="1230.79" y="1847.20" font-size="17.59" textLength="45.53" lengthAdjust="spacingAndGlyphs"><tspan>0.997</tspan></text>
<text x="1230.79" y="1896.70" font-size="17.59" textLength="45.41" lengthAdjust="spacingAndGlyphs"><tspan>0.823</tspan></text>
<text x="1230.79" y="1917.80" font-size="17.59" textLength="45.41" lengthAdjust="spacingAndGlyphs"><tspan>0.833</tspan></text>
<text x="1230.79" y="1945.10" font-size="17.59" textLength="45.41" lengthAdjust="spacingAndGlyphs"><tspan>0.796</tspan></text>
<text x="1230.79" y="1971.80" font-size="17.59" textLength="45.47" lengthAdjust="spacingAndGlyphs"><tspan>0.619</tspan></text>
<text x="1230.79" y="2016.90" font-size="17.59" textLength="45.40" lengthAdjust="spacingAndGlyphs"><tspan>0.798</tspan></text>
<text x="1230.79" y="2043.40" font-size="17.59" textLength="45.53" lengthAdjust="spacingAndGlyphs"><tspan>0.377</tspan></text>
<text x="1230.79" y="2068.40" font-size="17.59" textLength="45.41" lengthAdjust="spacingAndGlyphs"><tspan>0.556</tspan></text>
<text x="1230.79" y="2095.40" font-size="17.59" textLength="45.47" lengthAdjust="spacingAndGlyphs"><tspan>0.219</tspan></text>
<text x="1230.79" y="2114.80" font-size="17.59" textLength="45.41" lengthAdjust="spacingAndGlyphs"><tspan>0.246</tspan></text>
<text x="1230.79" y="2139.50" font-size="17.59" textLength="45.31" lengthAdjust="spacingAndGlyphs"><tspan>0.220</tspan></text>
<text x="1230.79" y="2166.30" font-size="17.59" textLength="45.40" lengthAdjust="spacingAndGlyphs"><tspan>0.108</tspan></text>
<text x="1230.80" y="2217.80" font-size="17.59" textLength="45.13" lengthAdjust="spacingAndGlyphs"><tspan>0.734</tspan></text>
<text x="1230.79" y="2264.20" font-size="17.59" textLength="45.40" lengthAdjust="spacingAndGlyphs"><tspan>0.768</tspan></text>
<text x="1230.79" y="2289.40" font-size="17.59" textLength="45.53" lengthAdjust="spacingAndGlyphs"><tspan>0.902</tspan></text>
<text x="1230.79" y="2313.70" font-size="17.59" textLength="45.40" lengthAdjust="spacingAndGlyphs"><tspan>0.448</tspan></text>
<text x="1230.79" y="2340.50" font-size="17.59" textLength="45.41" lengthAdjust="spacingAndGlyphs"><tspan>0.993</tspan></text>
<text x="1230.79" y="2360.80" font-size="17.59" textLength="45.40" lengthAdjust="spacingAndGlyphs"><tspan>0.998</tspan></text>
<path d="M1004.95,2419.55L1004.95,2424.95M1002.61,2420.90L1007.29,2423.60M1007.29,2420.90L1002.61,2423.60" fill="none" stroke="#231f20" stroke-width="1.70" stroke-linecap="round"/>
<text x="1014.43" y="2432.40" font-size="16.28" textLength="219.48" lengthAdjust="spacingAndGlyphs"><tspan>Number of events is too small</tspan></text>
<line x1="731.80" y1="1780.30" x2="731.80" y2="2384.60" stroke-width="1.90"/>
<line x1="513.30" y1="2375.00" x2="983.80" y2="2375.00" stroke-width="1.80"/>
<line x1="594.60" y1="2371.50" x2="594.60" y2="2381.80" stroke-width="1.60"/>
<line x1="653.50" y1="2371.50" x2="653.50" y2="2381.80" stroke-width="1.60"/>
<line x1="811.60" y1="2371.50" x2="811.60" y2="2381.80" stroke-width="1.60"/>
<line x1="891.00" y1="2371.50" x2="891.00" y2="2381.80" stroke-width="1.60"/>
<line x1="954.80" y1="2371.50" x2="954.80" y2="2381.80" stroke-width="1.60"/>
<text x="581.66" y="2411.70" font-size="17.73" textLength="26.12" lengthAdjust="spacingAndGlyphs"><tspan font-weight="bold">0.3</tspan></text>
<text x="642.48" y="2411.70" font-size="17.73" textLength="25.22" lengthAdjust="spacingAndGlyphs"><tspan font-weight="bold">0.5</tspan></text>
<text x="728.95" y="2411.70" font-size="17.73" textLength="11.00" lengthAdjust="spacingAndGlyphs"><tspan font-weight="bold">1</tspan></text>
<text x="805.92" y="2412.60" font-size="17.73" textLength="10.97" lengthAdjust="spacingAndGlyphs"><tspan font-weight="bold">2</tspan></text>
<text x="886.53" y="2411.70" font-size="17.73" textLength="9.86" lengthAdjust="spacingAndGlyphs"><tspan font-weight="bold">4</tspan></text>
<text x="948.63" y="2411.70" font-size="17.73" textLength="11.26" lengthAdjust="spacingAndGlyphs"><tspan font-weight="bold">7</tspan></text>
<text x="719.98" y="2440.10" font-size="17.59" textLength="24.27" lengthAdjust="spacingAndGlyphs"><tspan font-weight="bold">HR</tspan></text>
<polyline class="ah" points="560.90,2440.00 550.14,2446.60 560.90,2453.20" stroke-width="3.60"/>
<line x1="684.70" y1="2446.60" x2="550.14" y2="2446.60" stroke-width="1.80"/>
<polyline class="ah" points="901.10,2440.00 911.86,2446.60 901.10,2453.20" stroke-width="3.60"/>
<line x1="779.30" y1="2446.60" x2="911.86" y2="2446.60" stroke-width="1.80"/>
<text x="589.99" y="2477.90" font-size="18.90" textLength="92.31" lengthAdjust="spacingAndGlyphs"><tspan font-weight="bold">Longer OS</tspan></text>
<text x="780.67" y="2475.50" font-size="18.90" textLength="97.35" lengthAdjust="spacingAndGlyphs"><tspan font-weight="bold">Shorter OS</tspan></text>
<line x1="614.00" y1="1883.60" x2="875.40" y2="1883.60" stroke-width="1.80"/>
<rect class="sq" x="738.20" y="1876.40" width="18.60" height="14.80" rx="1.60"/>
<line x1="546.00" y1="1934.90" x2="875.40" y2="1934.90" stroke-width="1.80"/>
<rect class="sq" x="700.20" y="1926.20" width="19.00" height="15.20" rx="1.60"/>
<polyline class="ah" points="526.90,1952.75 516.03,1959.20 526.90,1965.65" stroke-width="3.60"/>
<line x1="516.03" y1="1959.20" x2="880.70" y2="1959.20" stroke-width="1.80"/>
<rect class="sq" x="670.20" y="1950.50" width="18.60" height="15.20" rx="1.60"/>
<line x1="583.60" y1="2006.70" x2="839.30" y2="2006.70" stroke-width="1.80"/>
<rect class="sq" x="705.20" y="1999.10" width="18.20" height="15.20" rx="1.60"/>
<polyline class="ah" points="968.10,2051.85 978.97,2058.30 968.10,2064.75" stroke-width="3.60"/>
<line x1="563.00" y1="2056.40" x2="978.97" y2="2058.30" stroke-width="1.80"/>
<rect class="sq" x="797.10" y="2050.30" width="18.60" height="15.20" rx="1.60"/>
<polyline class="ah" points="967.40,2076.75 978.27,2083.20 967.40,2089.65" stroke-width="3.60"/>
<line x1="619.70" y1="2081.60" x2="978.27" y2="2083.20" stroke-width="1.80"/>
<rect class="sq" x="917.20" y="2075.30" width="18.60" height="15.20" rx="1.60"/>
<line x1="667.20" y1="2129.70" x2="978.70" y2="2129.70" stroke-width="1.80"/>
<rect class="sq" x="818.40" y="2121.30" width="18.60" height="15.60" rx="1.60"/>
<polyline class="ah" points="966.20,2147.15 977.07,2153.60 966.20,2160.05" stroke-width="3.60"/>
<line x1="706.30" y1="2153.60" x2="977.07" y2="2153.60" stroke-width="1.80"/>
<rect class="sq" x="859.00" y="2145.30" width="19.00" height="15.20" rx="1.60"/>
<line x1="523.60" y1="2204.90" x2="875.40" y2="2204.90" stroke-width="1.80"/>
<rect class="sq" x="692.60" y="2196.20" width="18.60" height="15.50" rx="1.60"/>
<polyline class="ah" points="527.70,2245.55 516.83,2252.00 527.70,2258.45" stroke-width="3.60"/>
<line x1="516.83" y1="2252.00" x2="891.30" y2="2252.00" stroke-width="1.80"/>
<rect class="sq" x="694.10" y="2244.40" width="18.70" height="15.20" rx="1.60"/>
<line x1="546.40" y1="2303.00" x2="812.70" y2="2303.00" stroke-width="1.80"/>
<rect class="sq" x="670.20" y="2295.30" width="18.60" height="15.20" rx="1.60"/>
</svg>
</body></html>
